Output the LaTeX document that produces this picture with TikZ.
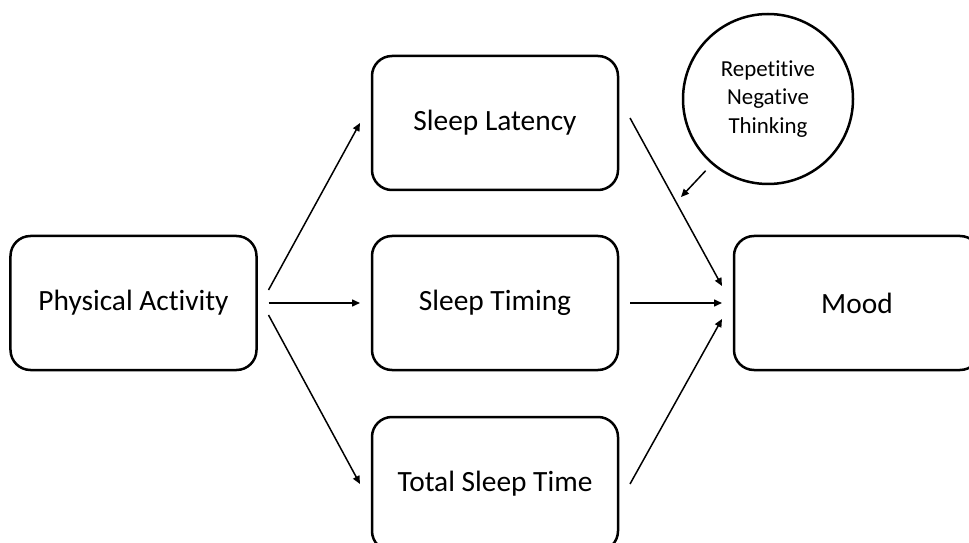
\documentclass[tikz,border=0pt]{standalone}
\usepackage{fontspec}
\setmainfont[Ligatures=NoCommon]{Carlito}
\usetikzlibrary{arrows.meta,calc}
\begin{document}
\begin{tikzpicture}[x=1bp,y=-1bp,
  boxnode/.style={draw, line width=2.5bp, rounded corners=20bp, minimum width=246bp, minimum height=134bp, outer sep=12bp, font=\fontsize{29.5}{34}\selectfont, inner sep=0pt},
  circnode/.style={draw, circle, line width=2.5bp, minimum size=170bp, outer sep=10bp, align=center, font=\fontsize{23}{28.5}\selectfont, inner sep=0pt},
  conn/.style={line width=1.5bp, -{Triangle[length=8bp,width=7bp]}}]
\useasboundingbox (0,0) rectangle (969,543);
\clip (0,0) rectangle (969,543);
\fill[white] (0,0) rectangle (969,543);
\node[boxnode] (pa) at (133.5,303) {Physical Activity};
\node[boxnode] (sl) at (495,123) {Sleep Latency};
\node[boxnode] (st) at (495,303) {Sleep Timing};
\node[boxnode] (tst) at (495,484) {Total Sleep Time};
\node[boxnode] (mood) at (857,303) {Mood};
\node[circnode] (rnt) at (768,99) {Repetitive\\Negative\\Thinking};
\coordinate (rntend) at (681,197);
\draw[conn] ($(pa.east)+(0,-13)$) -- (sl.west);
\draw[conn] (pa.east) -- (st.west);
\draw[conn] ($(pa.east)+(0,12)$) -- (tst.west);
\draw[conn] ($(sl.east)+(0,-5)$) -- ($(mood.west)+(0,-17)$);
\draw[conn] (st.east) -- (mood.west);
\draw[conn] (tst.east) -- ($(mood.west)+(0,16)$);
\draw[conn] (rnt.229) -- (rntend);
\end{tikzpicture}
\end{document}
